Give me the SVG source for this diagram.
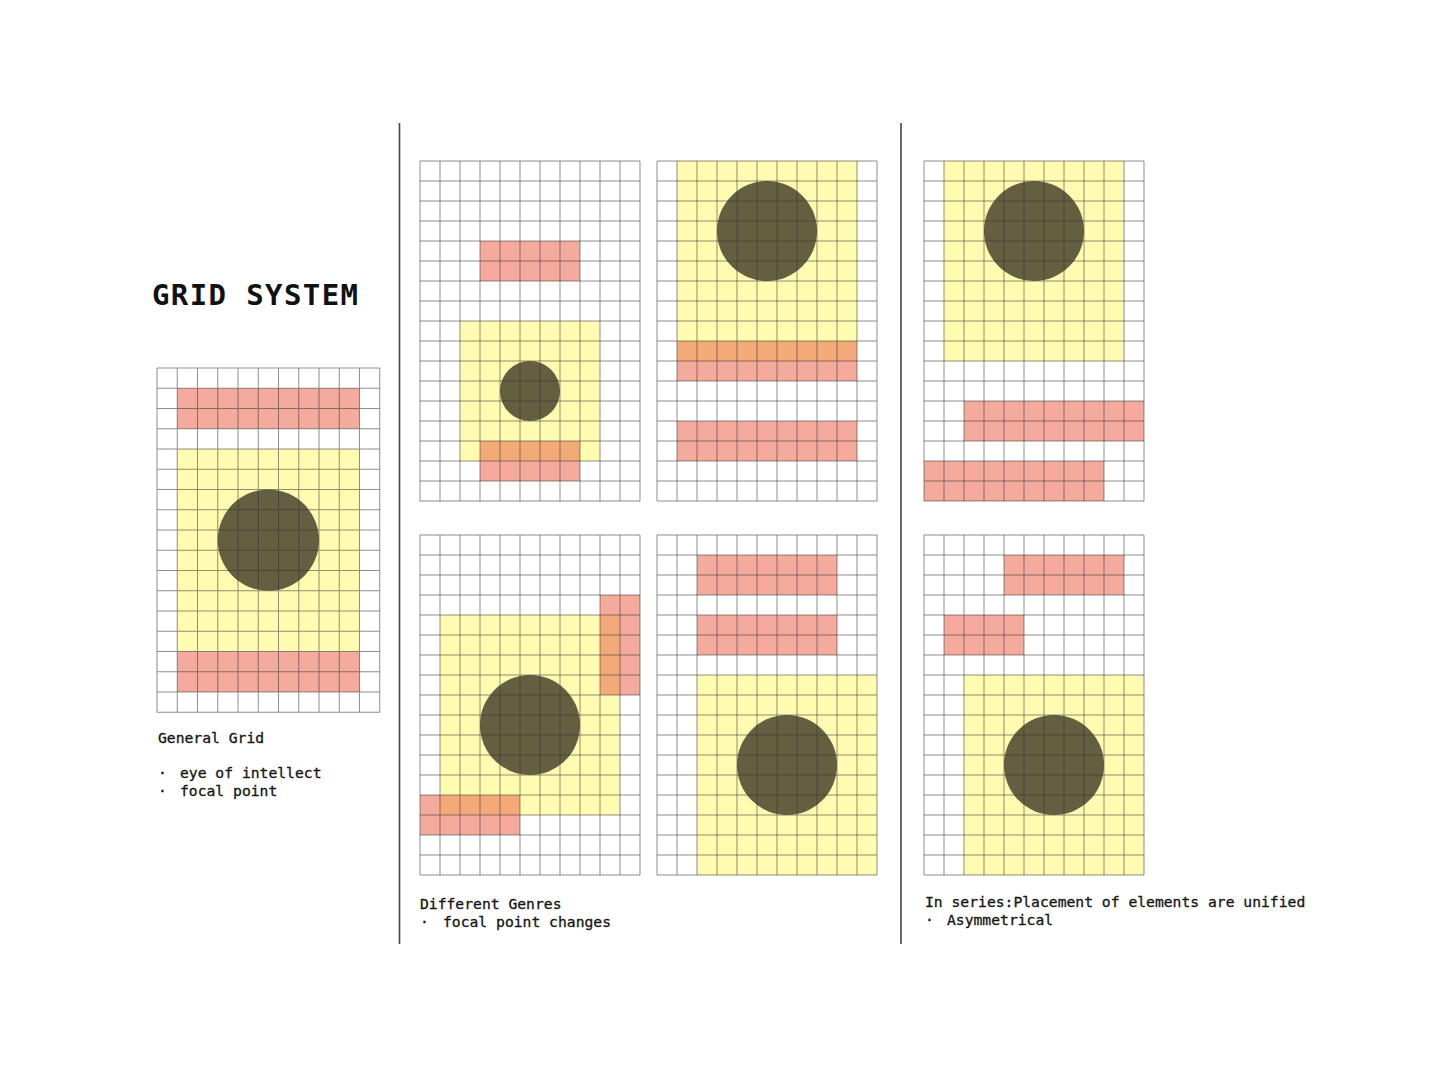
<svg xmlns="http://www.w3.org/2000/svg" xmlns:xlink="http://www.w3.org/1999/xlink" width="1440" height="1086" viewBox="0 0 1440 1086">
<style>
.y{fill:#fffbb0}
.p{fill:#f4aa9c}
.o{fill:#f4aa78}
.c{fill:#655f41}
.gl{fill:none;stroke:#333;stroke-opacity:0.55;stroke-width:1}
.div{stroke:#444;stroke-width:1.6}
.t{font-family:"DejaVu Sans Mono","Liberation Mono",monospace;font-size:14.7px;fill:#151515;stroke:#151515;stroke-width:0.3}
.h{font-family:"DejaVu Sans Mono","Liberation Mono",monospace;font-size:29px;font-weight:bold;fill:#111}
</style>
<defs>
<path id="gridlines" d="M0 0V340M20 0V340M40 0V340M60 0V340M80 0V340M100 0V340M120 0V340M140 0V340M160 0V340M180 0V340M200 0V340M220 0V340M0 0H220M0 20H220M0 40H220M0 60H220M0 80H220M0 100H220M0 120H220M0 140H220M0 160H220M0 180H220M0 200H220M0 220H220M0 240H220M0 260H220M0 280H220M0 300H220M0 320H220M0 340H220"/>
</defs>
<rect width="1440" height="1086" fill="#fff"/>

<g id="title"><text class="h" x="152" y="305" textLength="206" lengthAdjust="spacing">GRID SYSTEM</text></g>

<g id="connectors">
<line class="div" x1="399.5" y1="123" x2="399.5" y2="944"/>
<line class="div" x1="901" y1="123" x2="901" y2="944"/>
</g>

<g id="grid-general" transform="translate(157,368) scale(1.0125)">
<rect class="p" x="20" y="20" width="180" height="40"/>
<rect class="y" x="20" y="80" width="180" height="200"/>
<rect class="p" x="20" y="280" width="180" height="40"/>
<circle class="c" cx="110" cy="170" r="50"/>
<use href="#gridlines" class="gl"/>
</g>

<g id="grid-a" transform="translate(420,161)">
<rect class="p" x="60" y="80" width="100" height="40"/>
<rect class="y" x="40" y="160" width="140" height="140"/>
<rect class="p" x="60" y="280" width="100" height="40"/>
<rect class="o" x="60" y="280" width="100" height="20"/>
<circle class="c" cx="110" cy="230" r="30"/>
<use href="#gridlines" class="gl"/>
</g>

<g id="grid-b" transform="translate(657,161)">
<rect class="y" x="20" y="0" width="180" height="200"/>
<rect class="p" x="20" y="180" width="180" height="40"/>
<rect class="o" x="20" y="180" width="180" height="20"/>
<rect class="p" x="20" y="260" width="180" height="40"/>
<circle class="c" cx="110" cy="70" r="50"/>
<use href="#gridlines" class="gl"/>
</g>

<g id="grid-c" transform="translate(924,161)">
<rect class="y" x="20" y="0" width="180" height="200"/>
<circle class="c" cx="110" cy="70" r="50"/>
<rect class="p" x="40" y="240" width="180" height="40"/>
<rect class="p" x="0" y="300" width="180" height="40"/>
<use href="#gridlines" class="gl"/>
</g>

<g id="grid-d" transform="translate(420,535)">
<rect class="y" x="20" y="80" width="180" height="200"/>
<rect class="p" x="180" y="60" width="40" height="100"/>
<rect class="o" x="180" y="80" width="20" height="80"/>
<rect class="p" x="0" y="260" width="100" height="40"/>
<rect class="o" x="20" y="260" width="80" height="20"/>
<circle class="c" cx="110" cy="190" r="50"/>
<use href="#gridlines" class="gl"/>
</g>

<g id="grid-e" transform="translate(657,535)">
<rect class="p" x="40" y="20" width="140" height="40"/>
<rect class="p" x="40" y="80" width="140" height="40"/>
<rect class="y" x="40" y="140" width="180" height="200"/>
<circle class="c" cx="130" cy="230" r="50"/>
<use href="#gridlines" class="gl"/>
</g>

<g id="grid-f" transform="translate(924,535)">
<rect class="p" x="80" y="20" width="120" height="40"/>
<rect class="p" x="20" y="80" width="80" height="40"/>
<rect class="y" x="40" y="140" width="180" height="200"/>
<circle class="c" cx="130" cy="230" r="50"/>
<use href="#gridlines" class="gl"/>
</g>

<g id="label-general">
<text class="t" x="158" y="743">General Grid</text>
<text class="t" x="158" y="778">·</text>
<text class="t" x="180" y="778">eye of intellect</text>
<text class="t" x="158" y="796">·</text>
<text class="t" x="180" y="796">focal point</text>
</g>
<g id="label-genres">
<text class="t" x="420" y="909">Different Genres</text>
<text class="t" x="420" y="927">·</text>
<text class="t" x="443" y="927">focal point changes</text>
</g>
<g id="label-series">
<text class="t" x="925" y="907">In series:Placement of elements are unified</text>
<text class="t" x="925" y="925">·</text>
<text class="t" x="947" y="925">Asymmetrical</text>
</g>
</svg>
